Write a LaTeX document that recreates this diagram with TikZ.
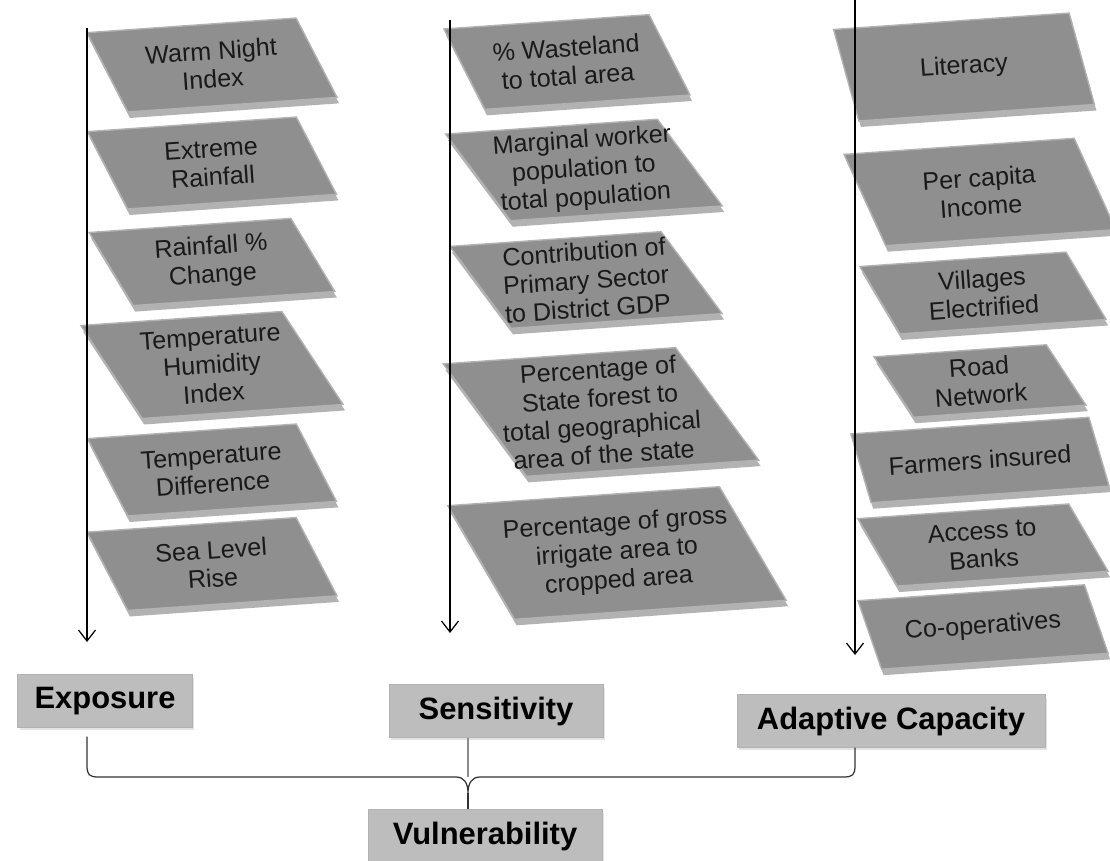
\documentclass[tikz,border=0pt]{standalone}
\usepackage{fontspec}
\setmainfont{Liberation Sans}
\usetikzlibrary{arrows.meta,shapes.geometric,shadows,calc}

\definecolor{panelface}{gray}{0.56}
\definecolor{panelrim}{gray}{0.70}
\definecolor{boxface}{gray}{0.74}

\begin{document}
\begin{tikzpicture}[
  x=0.02cm,y=-0.02cm,
  panel/.style={trapezium,trapezium left angle=125,trapezium right angle=55,
    trapezium stretches body=true,inner xsep=-0.8cm,inner ysep=1pt,rotate=4,fill=panelface,
    draw=panelrim,line width=0.8pt,align=center,text=black!90,
    font=\fontsize{14.3}{16.2}\selectfont,
    drop shadow={shadow xshift=0.4mm,shadow yshift=-1.2mm,fill=black!60}},
  factor/.style={rectangle,fill=boxface,draw=black!30,line width=0.5pt,
    minimum height=1.05cm,font=\bfseries\fontsize{17.6}{20}\selectfont,
    drop shadow={shadow xshift=0.4mm,shadow yshift=-0.6mm,fill=black!22}},
  pillar/.style={-{Straight Barb[length=2.2mm,width=3.4mm]},draw=black,line width=0.7pt},
  brace/.style={draw=black!80,line width=0.7pt}
]
  \useasboundingbox (0,0) rectangle (1110,860);

  % exposure indicators
  \node[panel,minimum width=4.9cm,minimum height=1.64cm] (warm) at (212,65) {Warm Night\\Index};
  \node[panel,minimum width=4.88cm,minimum height=1.6cm] (rainx) at (212,163) {Extreme\\Rainfall};
  \node[panel,minimum width=4.82cm,minimum height=1.52cm] (rainc) at (212,262) {Rainfall \%\\Change};
  \node[panel,minimum width=5.12cm,minimum height=1.94cm] (thi) at (212,365) {Temperature\\Humidity\\Index};
  \node[panel,minimum width=4.88cm,minimum height=1.6cm] (tdiff) at (212,470) {Temperature\\Difference};
  \node[panel,minimum width=4.9cm,minimum height=1.62cm] (sea) at (212,564) {Sea Level\\Rise};

  % sensitivity indicators
  \node[panel,minimum width=4.82cm,minimum height=1.66cm] (waste) at (567,62) {\% Wasteland\\to total area};
  \node[panel,minimum width=5.42cm,minimum height=1.82cm] (marg) at (584,170) {Marginal worker\\population to\\total population};
  \node[panel,minimum width=5.34cm,minimum height=1.72cm] (gdp) at (586,280) {Contribution of\\Primary Sector\\to District GDP};
  \node[panel,minimum width=6.16cm,minimum height=2.36cm] (forest) at (601,412) {Percentage of\\State forest to\\total geographical\\area of the state};
  \node[panel,minimum width=6.62cm,minimum height=2.36cm] (irrig) at (617,553) {Percentage of gross\\irrigate area to\\cropped area};

  % adaptive capacity indicators
  \node[panel,minimum width=5.1cm,minimum height=1.86cm] (lit) at (964,67) {Literacy};
  \node[panel,minimum width=5.32cm,minimum height=1.88cm] (income) at (980,192) {Per capita\\Income};
  \node[panel,minimum width=4.84cm,minimum height=1.4cm] (elec) at (983,293) {Villages\\Electrified};
  \node[panel,minimum width=4.16cm,minimum height=1.26cm] (road) at (980,381) {Road\\Network};
  \node[panel,minimum width=5.08cm,minimum height=1.4cm] (insur) at (980,460) {Farmers insured};
  \node[panel,minimum width=4.92cm,minimum height=1.4cm] (bank) at (983,545) {Access to\\Banks};
  \node[panel,minimum width=4.92cm,minimum height=1.4cm] (coop) at (983,627) {Co-operatives};

  % column arrows
  \coordinate (expTop) at (87,28);
  \coordinate (expEnd) at (87,642);
  \coordinate (senTop) at (450,20);
  \coordinate (senEnd) at (450,633);
  \coordinate (capTop) at (855,0);
  \coordinate (capEnd) at (855,655);
  \draw[pillar] (expTop) -- (expEnd);
  \draw[pillar] (senTop) -- (senEnd);
  \draw[pillar] (capTop) -- (capEnd);

  % components
  \node[factor,minimum width=3.5cm] (expo) at (105,701) {Exposure};
  \node[factor,minimum width=4.28cm] (sens) at (496,711) {Sensitivity};
  \node[factor,minimum width=6.16cm] (cap) at (891,721) {Adaptive Capacity};
  \node[factor,minimum width=4.68cm] (vul) at (485,836) {Vulnerability};

  \coordinate (fork) at (468,777);
  \draw[draw=black!45,line width=0.6pt] (fork |- sens.south) -- (fork);
  \draw[brace] ($(expEnd |- expo.south)+(0,9)$) -- ($(expEnd |- fork)+(0,-12)$)
    .. controls +(0,10) and +(-10,0) .. ($(expEnd |- fork)+(12,0)$)
    -- ($(fork)+(-12,0)$)
    .. controls +(8,0) and +(0,-10) .. ($(fork)+(0,16)$)
    .. controls +(0,-10) and +(-8,0) .. ($(fork)+(12,0)$)
    -- ($(capEnd |- fork)+(-12,0)$)
    .. controls +(10,0) and +(0,10) .. ($(capEnd |- fork)+(0,-12)$)
    -- (capEnd |- cap.south);
  \draw[brace] ($(fork)+(0,16)$) -- (fork |- vul.north);
\end{tikzpicture}
\end{document}
